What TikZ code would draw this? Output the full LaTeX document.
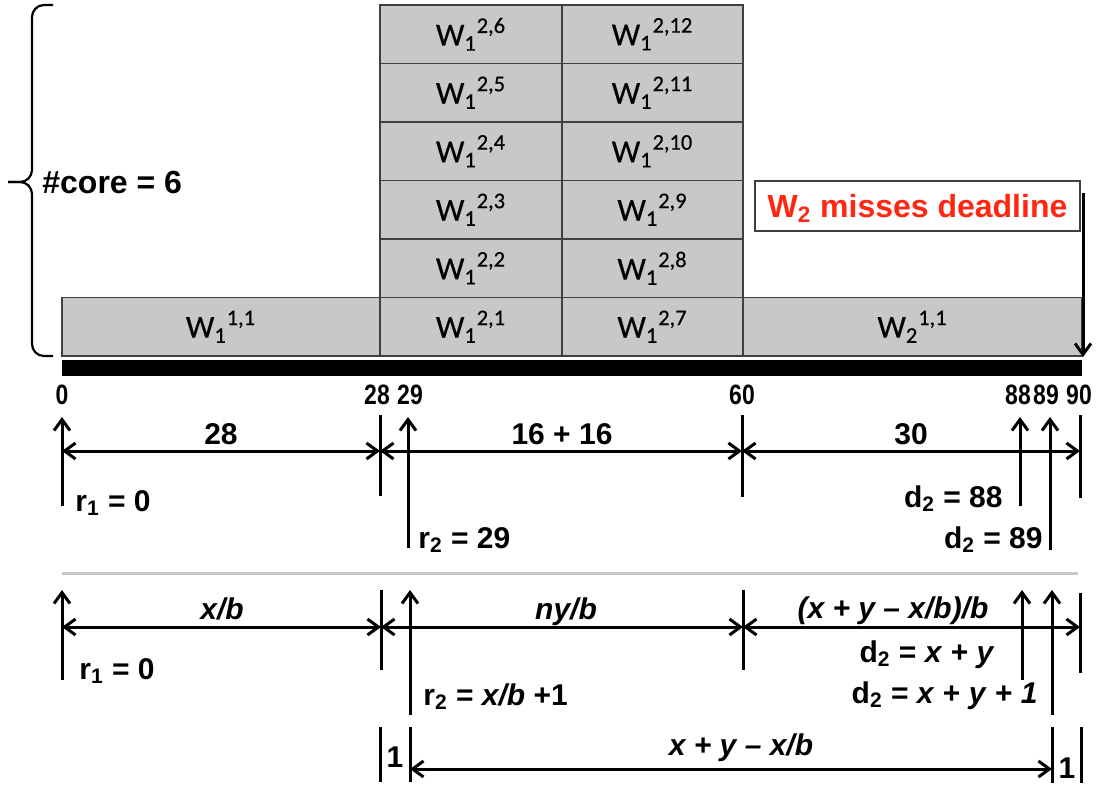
\documentclass[tikz,border=0pt]{standalone}
\usepackage{fontspec}
\setmainfont{Liberation Sans}
\newfontfamily\cellfont[FakeBold=0.5]{Carlito}
\newfontfamily\numfont[FakeStretch=0.82]{Liberation Sans}
\usetikzlibrary{arrows.meta}

\definecolor{cellgray}{RGB}{200,200,200}
\definecolor{missred}{RGB}{255,38,18}

\tikzset{
  cell/.style={draw=black!75, line width=0.7pt, fill=cellgray, minimum height=29.25pt,
    inner sep=0pt, font=\cellfont\fontsize{16}{18}\selectfont},
  lbl/.style={inner sep=0pt, font=\bfseries\fontsize{15}{18}\selectfont},
  biglbl/.style={inner sep=0pt, font=\bfseries\fontsize{16}{19}\selectfont},
  num/.style={inner sep=0pt, font=\numfont\bfseries\fontsize{14}{16}\selectfont},
  barb/.tip={Straight Barb[length=5.5pt,width=8pt]},
  span/.style={barb-barb, line width=1.5pt},
  rel/.style={-barb, line width=1.5pt},
  tickline/.style={line width=1.5pt},
}

\begin{document}
\begin{tikzpicture}[x=0.5pt,y=-0.5pt]
\useasboundingbox (0,0) rectangle (1097,788);

\node[cell, minimum width=159pt] (w11) at (221,326.75) {W\textsubscript{1}\textsuperscript{1,1}};
\foreach \k [evaluate=\k as \kk using int(\k+6)] in {1,...,6} {
	\node[cell, minimum width=91pt] (a\k) at (471,{356-58.5*(\k-0.5)}) {W\textsubscript{1}\textsuperscript{2,\k}};
	\node[cell, minimum width=90.5pt] (b\k) at (652.5,{356-58.5*(\k-0.5)}) {W\textsubscript{1}\textsuperscript{2,\kk}};
}
\node[cell, minimum width=169.5pt] (w21) at (912.5,326.75) {W\textsubscript{2}\textsuperscript{1,1}};

\draw[line width=1.1pt, rounded corners=6pt] (53,5) -- (32,5) -- (32,182) -- (8,182);
\draw[line width=1.1pt, rounded corners=6pt] (53,356) -- (32,356) -- (32,182) -- (8,182);
\node[biglbl, anchor=base west] (cores) at (42,193) {\#core = 6};

\fill (62,360) rectangle (1082,376);

\node[draw=black!75, line width=0.6pt, fill=white, minimum width=162.5pt, minimum height=25pt,
  biglbl, text depth=0pt, text=missred] (miss) at (917.5,206) {W\textsubscript{2} misses deadline};
\coordinate (dlfrom) at (1083,193);
\coordinate (dlto) at (1083,357);
\draw[rel] (dlfrom) -- (dlto);

% concrete values
\foreach \t/\x in {0/62,28/377,29/410,60/742,88/1018,89/1046,90/1079}
	\node[num] (n\t) at (\x,395) {\t};
\foreach \n/\x/\e in {r1/62/506,r2/408/548,da/1020/506,db/1050/550} {
	\coordinate (\n lo) at (\x,\e);
	\coordinate (\n hi) at (\x,417);
	\draw[rel] (\n lo) -- (\n hi);
}
\foreach \n/\x/\e in {28/380/496,60/742/497,90/1080/498} {
	\coordinate (s\n hi) at (\x,415);
	\coordinate (s\n lo) at (\x,\e);
	\draw[tickline] (s\n hi) -- (s\n lo);
}
\foreach \n/\x in {0/62,28/380,60/742,90/1080}
	\coordinate (u\n) at (\x,451);
\draw[span] (u0) -- (u28);
\draw[span] (u28) -- (u60);
\draw[span] (u60) -- (u90);
\node[lbl, anchor=base] (len1) at (221,444) {28};
\node[lbl, anchor=base] (len2) at (562,444) {16 + 16};
\node[lbl, anchor=base] (len3) at (911,444) {30};
\node[lbl, anchor=base west] (rel1) at (75,511) {r\textsubscript{1} = 0};
\node[lbl, anchor=base west] (rel2) at (418,548) {r\textsubscript{2} = 29};
\node[lbl, anchor=base east] (dl1) at (1003,507) {d\textsubscript{2} = 88};
\node[lbl, anchor=base east] (dl2) at (1043,548) {d\textsubscript{2} = 89};

\coordinate (sepl) at (62,573);
\coordinate (sepr) at (1078,573);
\draw[line width=1.5pt, black!22] (sepl) -- (sepr);

% symbolic values
\foreach \n/\x/\e in {R1/62/680,R2/410/715,Da/1022/680,Db/1052/715} {
	\coordinate (\n lo) at (\x,\e);
	\coordinate (\n hi) at (\x,590);
	\draw[rel] (\n lo) -- (\n hi);
}
\foreach \n/\x/\s/\e in {28/381/590/670,60/743/590/670,90/1080/593/673} {
	\coordinate (S\n hi) at (\x,\s);
	\coordinate (S\n lo) at (\x,\e);
	\draw[tickline] (S\n hi) -- (S\n lo);
}
\foreach \n/\x in {0/62,28/381,60/743,90/1080}
	\coordinate (v\n) at (\x,627);
\draw[span] (v0) -- (v28);
\draw[span] (v28) -- (v60);
\draw[span] (v60) -- (v90);
\node[lbl, anchor=base] (Len1) at (222,619) {\textit{x/b}};
\node[lbl, anchor=base] (Len2) at (566,619) {\textit{ny/b}};
\node[lbl, anchor=base] (Len3) at (893,618) {\textit{(x + y -- x/b)/b}};
\node[lbl, anchor=base west] (Rel1) at (79,679) {r\textsubscript{1} = 0};
\node[lbl, anchor=base west] (Rel2) at (423,705) {r\textsubscript{2} = \textit{x/b} +1};
\node[lbl, anchor=base east] (Dl1) at (995,662) {d\textsubscript{2} = \textit{x} + \textit{y}};
\node[lbl, anchor=base east] (Dl2) at (1038,703) {d\textsubscript{2} = \textit{x} + \textit{y} + \textit{1}};

\foreach \n/\x/\e in {g1/380/782,g2/410/782,g3/1052/783,g4/1081/783} {
	\coordinate (\n hi) at (\x,727);
	\coordinate (\n lo) at (\x,\e);
	\draw[tickline] (\n hi) -- (\n lo);
}
\coordinate (wl) at (410,769);
\coordinate (wr) at (1052,769);
\draw[span] (wl) -- (wr);
\node[lbl, anchor=base] (gap1) at (395,767) {1};
\node[lbl, anchor=base] (gap2) at (1067,778) {1};
\node[lbl, anchor=base] (win) at (741,755) {\textit{x + y -- x/b}};
\end{tikzpicture}
\end{document}
